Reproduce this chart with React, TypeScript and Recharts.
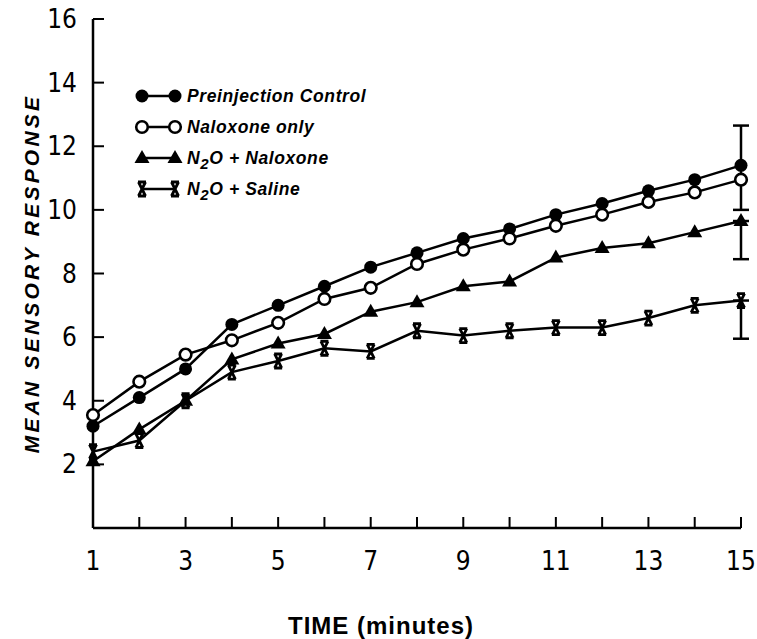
import React from 'react'
import { LineChart, Line, XAxis, YAxis, ErrorBar, Legend } from 'recharts'

const minutes = [1, 2, 3, 4, 5, 6, 7, 8, 9, 10, 11, 12, 13, 14, 15]
const preinjection = [3.2, 4.1, 5.0, 6.4, 7.0, 7.6, 8.2, 8.65, 9.1, 9.4, 9.85, 10.2, 10.6, 10.95, 11.4]
const naloxoneOnly = [3.55, 4.6, 5.45, 5.9, 6.45, 7.2, 7.55, 8.3, 8.75, 9.1, 9.5, 9.85, 10.25, 10.55, 10.95]
const n2oNaloxone = [2.1, 3.1, 4.0, 5.3, 5.8, 6.1, 6.8, 7.1, 7.6, 7.75, 8.5, 8.8, 8.95, 9.3, 9.65]
const n2oSaline = [2.4, 2.75, 4.0, 4.9, 5.25, 5.65, 5.55, 6.2, 6.05, 6.2, 6.3, 6.3, 6.6, 7.0, 7.15]

// error bars only drawn at the last minute: [below, above]
const preinjectionErr = [1.4, 1.25]
const n2oNaloxoneErr = [1.2, 0]
const n2oSalineErr = [1.2, 0]

const xTicks = minutes
const yTicks = [2, 4, 6, 8, 10, 12, 14, 16]

const last = minutes.length - 1
const data = minutes.map((m, i) => ({
  minute: m,
  pre: preinjection[i],
  nal: naloxoneOnly[i],
  n2oNal: n2oNaloxone[i],
  n2oSal: n2oSaline[i],
  preErr: i === last ? preinjectionErr : null,
  n2oNalErr: i === last ? n2oNaloxoneErr : null,
  n2oSalErr: i === last ? n2oSalineErr : null,
}))

const numFont = '"Liberation Sans Narrow", "DejaVu Sans Condensed", "Liberation Sans", sans-serif'
const boldFont = '"Liberation Sans", "DejaVu Sans", sans-serif'

function FilledDot({ cx, cy }: any) {
  if (cx == null || cy == null) return null
  return <circle cx={cx} cy={cy} r={6.5} fill="#000" />
}
function OpenDot({ cx, cy }: any) {
  if (cx == null || cy == null) return null
  return <circle cx={cx} cy={cy} r={5.8} fill="#fff" stroke="#000" strokeWidth={2.6} />
}
function TriDot({ cx, cy }: any) {
  if (cx == null || cy == null) return null
  return <polygon points={`${cx},${cy - 8} ${cx - 7.5},${cy + 5} ${cx + 7.5},${cy + 5}`} fill="#000" />
}
function XDot({ cx, cy }: any) {
  if (cx == null || cy == null) return null
  const d = `M${cx - 3.5},${cy - 7}L${cx + 3.5},${cy + 7}M${cx + 3.5},${cy - 7}L${cx - 3.5},${cy + 7}M${cx - 4},${cy - 7}L${cx + 4},${cy - 7}M${cx - 4},${cy + 7}L${cx + 4},${cy + 7}`
  return <path d={d} stroke="#000" strokeWidth={2.8} fill="none" />
}

function XTick({ x, y, payload }: any) {
  const v = payload.value
  return (
    <g>
      <line x1={x} y1={y} x2={x} y2={y - 11} stroke="#000" strokeWidth={2} />
      {v % 2 === 1 && (
        <text x={x} y={y + 42} textAnchor="middle" fontFamily={numFont} fontSize={26} fill="#000">
          {v}
        </text>
      )}
    </g>
  )
}

function YTick({ x, y, payload }: any) {
  return (
    <g>
      <line x1={x} y1={y} x2={x + 11} y2={y} stroke="#000" strokeWidth={2} />
      <text x={x - 16} y={y + 9} textAnchor="end" fontFamily={numFont} fontSize={26} fill="#000">
        {payload.value}
      </text>
    </g>
  )
}

function XTitle({ viewBox }: any) {
  const cx = viewBox.x + viewBox.width / 2 - 36
  return (
    <text x={cx} y={634} textAnchor="middle" fontFamily={boldFont} fontSize={24} fontWeight="bold" letterSpacing={1} fill="#000">
      TIME (minutes)
    </text>
  )
}

function YTitle({ viewBox }: any) {
  const cy = viewBox.y + viewBox.height / 2
  return (
    <text
      x={39}
      y={cy}
      transform={`rotate(-90 39 ${cy})`}
      textAnchor="middle"
      fontFamily={boldFont}
      fontSize={21}
      fontWeight="bold"
      fontStyle="italic"
      letterSpacing={3.2}
      fill="#000"
    >
      MEAN SENSORY RESPONSE
    </text>
  )
}

const legendRows = [
  { label: ['Preinjection Control'], dot: FilledDot },
  { label: ['Naloxone only'], dot: OpenDot },
  { label: ['N', '2', 'O + Naloxone'], dot: TriDot },
  { label: ['N', '2', 'O + Saline'], dot: XDot },
]

function LegendBox() {
  return (
    <svg width={260} height={120}>
      {legendRows.map((r, i) => {
        const y = 12 + i * 31
        const D = r.dot
        return (
          <g key={i}>
            <line x1={10} y1={y} x2={43} y2={y} stroke="#000" strokeWidth={2.5} />
            <D cx={10} cy={y} />
            <D cx={43} cy={y} />
            <text x={55} y={y + 6} fontFamily={boldFont} fontSize={17.5} fontWeight="bold" fontStyle="italic" letterSpacing={0.6} fill="#000">
              {r.label.length === 1 ? (
                r.label[0]
              ) : (
                <>
                  {r.label[0]}
                  <tspan dy={5} fontSize={15}>{r.label[1]}</tspan>
                  <tspan dy={-5}>{r.label[2]}</tspan>
                </>
              )}
            </text>
          </g>
        )
      })}
    </svg>
  )
}

export default function App() {
  return (
    <div style={{ position: 'absolute', left: 0, top: 0, width: 757, height: 639, background: '#fff' }}>
      <LineChart width={757} height={639} data={data} margin={{ top: 19, right: 16, bottom: 0, left: 0 }}>
        <XAxis
          dataKey="minute"
          type="number"
          domain={[1, 15]}
          ticks={xTicks}
          tickLine={false}
          tickSize={0}
          tickMargin={0}
          height={111}
          axisLine={{ stroke: '#000', strokeWidth: 2.5 }}
          tick={<XTick />}
          interval={0}
          label={<XTitle />}
        />
        <YAxis
          type="number"
          domain={[0, 16]}
          ticks={yTicks}
          width={93}
          tickLine={false}
          tickSize={0}
          tickMargin={0}
          axisLine={{ stroke: '#000', strokeWidth: 2.5 }}
          tick={<YTick />}
          interval={0}
          label={<YTitle />}
        />
        <Legend
          content={<LegendBox />}
          layout="vertical"
          verticalAlign="middle"
          align="center"
          wrapperStyle={{ left: 132, top: 84, width: 260 }}
        />
        <Line dataKey="n2oSal" stroke="#000" strokeWidth={2.5} dot={<XDot />} isAnimationActive={false}>
          <ErrorBar dataKey="n2oSalErr" direction="y" width={8} stroke="#000" strokeWidth={2.5} />
        </Line>
        <Line dataKey="n2oNal" stroke="#000" strokeWidth={2.5} dot={<TriDot />} isAnimationActive={false}>
          <ErrorBar dataKey="n2oNalErr" direction="y" width={8} stroke="#000" strokeWidth={2.5} />
        </Line>
        <Line dataKey="pre" stroke="#000" strokeWidth={2.5} dot={<FilledDot />} isAnimationActive={false}>
          <ErrorBar dataKey="preErr" direction="y" width={8} stroke="#000" strokeWidth={2.5} />
        </Line>
        <Line dataKey="nal" stroke="#000" strokeWidth={2.5} dot={<OpenDot />} isAnimationActive={false} />
      </LineChart>
    </div>
  )
}
